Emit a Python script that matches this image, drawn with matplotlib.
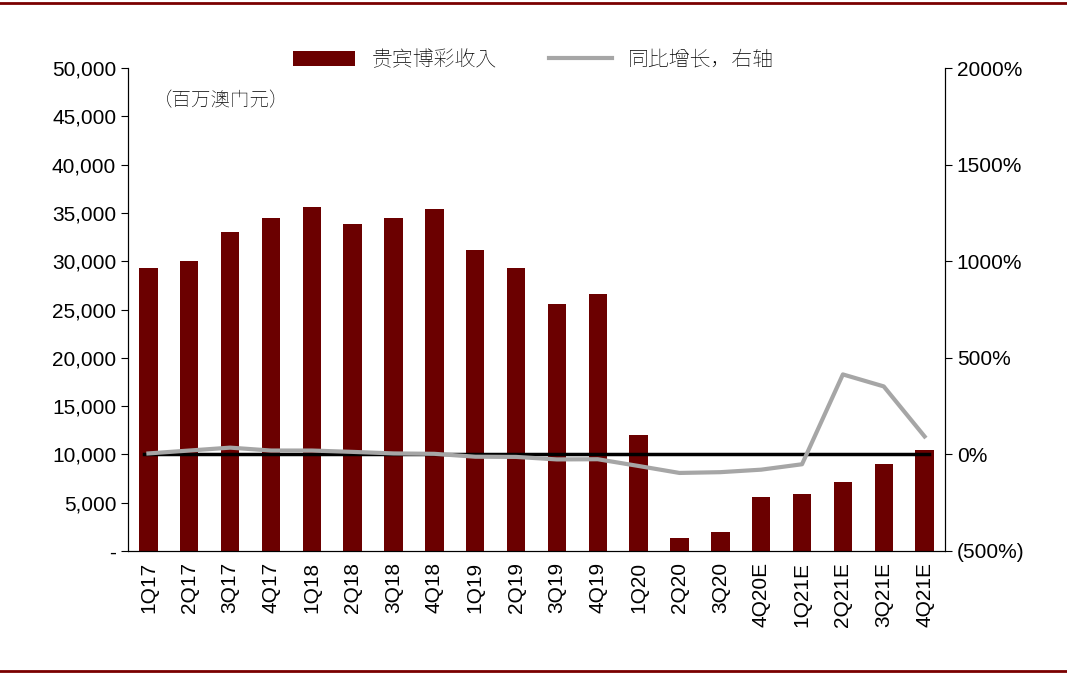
import matplotlib
matplotlib.use("Agg")
import matplotlib.pyplot as plt
from matplotlib import font_manager
from matplotlib.ticker import FuncFormatter

# find a CJK font file so the Chinese text renders
cjk_path = None
for f in font_manager.findSystemFonts():
    if "CJK" in f or "cjk" in f.lower():
        cjk_path = f
        if "SC" in f or "sc" in f.lower():
            break
cjk = font_manager.FontProperties(fname=cjk_path, size=15) if cjk_path else font_manager.FontProperties(family="Noto Sans CJK SC", size=15)
cjk_small = cjk.copy()
cjk_small.set_size(14)

plt.rcParams["font.family"] = ["Liberation Sans"]

quarters = ["1Q17", "2Q17", "3Q17", "4Q17", "1Q18", "2Q18", "3Q18", "4Q18",
            "1Q19", "2Q19", "3Q19", "4Q19", "1Q20", "2Q20", "3Q20", "4Q20E",
            "1Q21E", "2Q21E", "3Q21E", "4Q21E"]
revenue = [29300, 30000, 33000, 34500, 35600, 33800, 34500, 35400,
           31200, 29300, 25600, 26600, 12000, 1300, 2000, 5600,
           5900, 7100, 9000, 10500]
yoy = [5, 20, 35, 20, 20, 13, 5, 3, -12, -13, -26, -25,
       -60, -96, -92, -79, -51, 414, 352, 93]

fig = plt.figure(figsize=(10.67, 6.74), dpi=100)
ax = fig.add_axes([128 / 1067, 1 - 551 / 674, (945 - 128) / 1067, (551 - 68) / 674])
ax2 = ax.twinx()

x = range(len(quarters))
ax.bar(x, revenue, width=0.45, color="#6b0000", label="贵宾博彩收入", zorder=2)
ax2.plot(x, yoy, color="#a6a6a6", lw=3, label="同比增长，右轴", zorder=3)
ax2.axhline(0, color="black", lw=2.5, xmin=0.02, xmax=0.98)

ax.set_xlim(-0.5, len(quarters) - 0.5)
ax.set_ylim(0, 50000)
ax.set_yticks(range(0, 50001, 5000))
ax.yaxis.set_major_formatter(FuncFormatter(lambda v, p: "-" if v == 0 else f"{int(v):,}"))
ax2.set_ylim(-500, 2000)
ax2.set_yticks(range(-500, 2001, 500))
ax2.yaxis.set_major_formatter(FuncFormatter(lambda v, p: f"({int(-v)}%)" if v < 0 else f"{int(v)}%"))

ax.set_xticks(list(x))
ax.set_xticklabels(quarters, rotation=90, fontsize=15)
for a in (ax, ax2):
    a.tick_params(axis="y", labelsize=15, length=5, direction="out")
    a.spines["top"].set_visible(False)
ax.tick_params(axis="x", length=0, pad=8)

ax.text(0.03, 0.955, "（百万澳门元）", transform=ax.transAxes, fontproperties=cjk_small, va="top")

h1, l1 = ax.get_legend_handles_labels()
h2, l2 = ax2.get_legend_handles_labels()
fig.legend(h1 + h2, l1 + l2, loc="center", bbox_to_anchor=(0.5, 1 - 60 / 674), ncol=2,
           frameon=False, prop=cjk, handlelength=3.0, columnspacing=2.5)

# top and bottom rules
fig.add_artist(plt.Line2D([0, 1], [1 - 3 / 674] * 2, color="#7a0000", lw=2))
fig.add_artist(plt.Line2D([0, 1], [3 / 674] * 2, color="#7a0000", lw=2))

fig.savefig("out.png", dpi=100)
